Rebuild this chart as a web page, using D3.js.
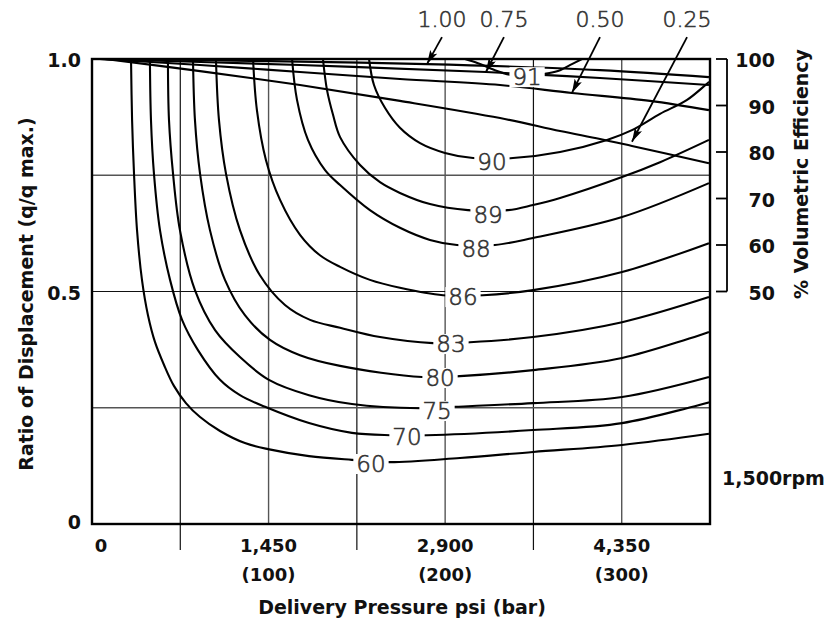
<!DOCTYPE html>
<html><head><meta charset="utf-8">
<script src="https://cdn.jsdelivr.net/npm/d3@7"></script>
<style>body{margin:0;background:#fff}</style>
</head><body>
<svg id="c" width="834" height="622"></svg>
<script>
// ---- data: x in bar, y in ratio of displacement ----
const eff60 = [[22.1,1.0],[22.7,0.869],[23.8,0.753],[25.5,0.632],[28.3,0.525],[31.7,0.449],[35.7,0.391],[40.8,0.342],[46.4,0.297],[53.2,0.260],[61.2,0.230],[72.5,0.200],[86.6,0.174],[99.7,0.161],[122.9,0.146],[147.2,0.138],[168.8,0.133],[208.4,0.142],[249.8,0.155],[300.2,0.170],[349.4,0.194]];
const eff70 = [[32.8,1.0],[33.4,0.869],[35.1,0.753],[38.5,0.632],[44.2,0.525],[51.0,0.439],[60.0,0.374],[72.5,0.310],[83.8,0.277],[98.0,0.252],[122.9,0.217],[147.2,0.196],[168.8,0.191],[189.7,0.191],[249.8,0.202],[300.2,0.217],[349.4,0.262]];
const eff75 = [[43.0,1.0],[43.6,0.869],[45.9,0.753],[49.8,0.632],[58.3,0.503],[69.7,0.417],[83.8,0.359],[100.2,0.310],[122.9,0.277],[147.2,0.258],[185.8,0.249],[205.6,0.252],[249.8,0.260],[300.2,0.273],[349.4,0.316]];
const eff80 = [[57.2,1.0],[58.3,0.869],[61.2,0.753],[66.8,0.632],[75.3,0.525],[86.6,0.449],[100.8,0.396],[117.8,0.363],[140.5,0.340],[186.9,0.316],[208.4,0.318],[249.8,0.331],[300.2,0.357],[349.4,0.413]];
const eff83 = [[70.2,1.0],[71.9,0.869],[75.9,0.753],[83.8,0.632],[95.1,0.535],[109.3,0.471],[123.5,0.439],[140.5,0.422],[163.1,0.402],[193.1,0.389],[214.1,0.391],[249.8,0.402],[300.2,0.434],[349.4,0.488]];
const eff86 = [[91.2,1.0],[93.4,0.890],[98.5,0.783],[106.5,0.697],[117.8,0.622],[129.1,0.578],[140.5,0.553],[157.4,0.525],[174.4,0.508],[198.8,0.492],[221.4,0.492],[249.8,0.503],[300.2,0.542],[349.4,0.604]];
const eff88 = [[113.3,1.0],[116.1,0.912],[122.3,0.826],[132.0,0.761],[140.5,0.729],[157.4,0.675],[174.4,0.637],[191.4,0.611],[206.7,0.600],[228.2,0.600],[249.8,0.615],[300.2,0.660],[349.4,0.733]];
const eff89 = [[130.8,1.0],[133.1,0.933],[136.5,0.880],[140.5,0.832],[151.8,0.772],[163.1,0.735],[174.4,0.712],[191.4,0.688],[212.9,0.675],[235.6,0.675],[249.8,0.686],[265.1,0.701],[300.2,0.746],[321.7,0.778],[349.4,0.826]];
const eff90 = [[156.9,1.0],[159.7,0.944],[165.9,0.895],[174.4,0.852],[185.8,0.819],[199.9,0.798],[215.8,0.787],[238.4,0.787],[265.1,0.800],[291.7,0.826],[305.8,0.847],[321.7,0.882],[337.0,0.912],[349.4,0.951]];
const eff91 = [[211.2,1.0],[218.6,0.991],[228.2,0.976],[236.7,0.966],[246.4,0.961],[256.6,0.968],[265.1,0.976],[271.8,0.989],[277.5,1.0]];
const contourLevels = ["60","70","75","80","83","86","88","89","90","91"];
const contourLabelPos = [[158.0,0.129],[178.4,0.187],[195.4,0.243],[197.1,0.314],[203.3,0.387],[210.1,0.488],[217.5,0.591],[224.3,0.665],[226.5,0.778],[246.4,0.961]];

// displacement setting lines
const disp100 = [[4.5,1.0],[89.5,0.996],[189.7,0.989],[287.7,0.976],[349.4,0.961]];
const disp075 = [[4.5,1.0],[117.8,0.987],[223.1,0.972],[287.7,0.959],[349.4,0.944]];
const disp050 = [[4.5,1.0],[61.2,0.987],[117.8,0.972],[174.4,0.957],[231.1,0.944],[271.8,0.927],[316.0,0.910],[349.4,0.890]];
const disp025 = [[7.4,1.0],[61.2,0.974],[117.8,0.944],[174.4,0.910],[231.1,0.873],[265.1,0.845],[287.7,0.828],[305.8,0.813],[349.4,0.776]];
const dispLabels = ["1.00","0.75","0.50","0.25"];
const dispLabelBar = [198.2,233.3,287.7,337.0];
const dispArrowTip = [[189.7,0.989],[223.1,0.972],[271.8,0.927],[305.8,0.822]];

const xTickBar = [0,100,200,300];
const xTickPsi = ["0","1,450","2,900","4,350"];
const xTickBarLabel = ["","(100)","(200)","(300)"];
const xGridMajor = [100,200,300];
const xGridMinor = [50,150,250];
const yTicks = [0,0.5,1.0];
const yTickLabels = ["0","0.5","1.0"];
const yGridMajor = [0.5];
const yGridMinor = [0.25,0.75];
const effTicks = [50,60,70,80,90,100];

// ---- drawing ----
const svg = d3.select("#c");
const x = d3.scaleLinear().domain([0,350]).range([92,710]);
const y = d3.scaleLinear().domain([0,1]).range([524,59]);
const yEff = d3.scaleLinear().domain([0,100]).range([524,59]);
const FONT = "'DejaVu Sans', sans-serif";

// grid
svg.selectAll(".vgM").data(xGridMajor).join("line")
  .attr("x1",d=>x(d)).attr("x2",d=>x(d)).attr("y1",y(1)).attr("y2",y(0))
  .attr("stroke","#555").attr("stroke-width",1.4);
svg.selectAll(".vgm").data(xGridMinor).join("line")
  .attr("x1",d=>x(d)).attr("x2",d=>x(d)).attr("y1",y(1)).attr("y2",550)
  .attr("stroke","#111").attr("stroke-width",1.2);
svg.selectAll(".hgM").data(yGridMajor).join("line")
  .attr("x1",x(0)).attr("x2",x(350)).attr("y1",d=>y(d)).attr("y2",d=>y(d))
  .attr("stroke","#111").attr("stroke-width",1.2);
svg.selectAll(".hgm").data(yGridMinor).join("line")
  .attr("x1",x(0)).attr("x2",x(350)).attr("y1",d=>y(d)).attr("y2",d=>y(d))
  .attr("stroke","#555").attr("stroke-width",1.4);

const line = d3.line().x(d=>x(d[0])).y(d=>y(d[1])).curve(d3.curveCatmullRom.alpha(0.5));
const allContours = [eff60,eff70,eff75,eff80,eff83,eff86,eff88,eff89,eff90,eff91];
svg.selectAll(".ct").data(allContours).join("path")
  .attr("d",line).attr("fill","none").attr("stroke","#000").attr("stroke-width",2.1);
const allDisp = [disp100,disp075,disp050,disp025];
svg.selectAll(".dp").data(allDisp).join("path")
  .attr("d",line).attr("fill","none").attr("stroke","#000").attr("stroke-width",2.1);

// frame
svg.append("rect").attr("x",x(0)).attr("y",y(1)).attr("width",x(350)-x(0)).attr("height",y(0)-y(1))
  .attr("fill","none").attr("stroke","#000").attr("stroke-width",2.4);

// contour labels with white boxes
function labelBox(g, txt, px, py, size){
  const t = g.append("text").attr("x",px).attr("y",py).attr("text-anchor","middle")
    .attr("dominant-baseline","central").attr("font-family",FONT).attr("font-weight",200)
    .attr("font-size",size).attr("fill","#333").attr("stroke","#333").attr("stroke-width",0.6).text(txt);
  const b = t.node().getBBox();
  g.insert("rect","text").attr("x",b.x-3).attr("y",b.y+3).attr("width",b.width+6).attr("height",b.height-6).attr("fill","#fff");
}
contourLevels.forEach((lv,i)=>{
  const g = svg.append("g");
  labelBox(g, lv, x(contourLabelPos[i][0]), y(contourLabelPos[i][1]), 23);
});

// arrow marker
svg.append("defs").append("marker").attr("id","ah").attr("viewBox","0 0 14 8")
  .attr("refX",14).attr("refY",4).attr("markerWidth",14).attr("markerHeight",8)
  .attr("markerUnits","userSpaceOnUse").attr("orient","auto")
  .append("path").attr("d","M0,0 L14,4 L0,8 L3,4 Z").attr("fill","#000");

dispLabels.forEach((lb,i)=>{
  svg.append("text").attr("x",x(dispLabelBar[i])).attr("y",y(1.084)).attr("text-anchor","middle")
    .attr("dominant-baseline","central").attr("font-family",FONT).attr("font-weight",200)
    .attr("font-size",22).attr("fill","#333").attr("stroke","#333").attr("stroke-width",0.6).text(lb);
  svg.append("line").attr("x1",x(dispLabelBar[i])).attr("y1",y(1.047))
    .attr("x2",x(dispArrowTip[i][0])).attr("y2",y(dispArrowTip[i][1]))
    .attr("stroke","#000").attr("stroke-width",1.8).attr("marker-end","url(#ah)");
});

// x axis labels
xTickBar.forEach((b,i)=>{
  svg.append("text").attr("x", i===0 ? x(b)+9 : x(b)).attr("y",545).attr("text-anchor","middle")
    .attr("dominant-baseline","central").attr("font-family",FONT).attr("font-weight",700)
    .attr("font-size",18).attr("fill","#111").text(xTickPsi[i]);
  if(xTickBarLabel[i]) svg.append("text").attr("x",x(b)).attr("y",574).attr("text-anchor","middle")
    .attr("dominant-baseline","central").attr("font-family",FONT).attr("font-weight",700)
    .attr("font-size",18).attr("fill","#111").text(xTickBarLabel[i]);
});
svg.append("text").attr("x",402).attr("y",607).attr("text-anchor","middle").attr("dominant-baseline","central")
  .attr("font-family",FONT).attr("font-weight",700).attr("font-size",19).attr("fill","#111")
  .text("Delivery Pressure psi (bar)");

// y axis labels
yTicks.forEach((v,i)=>{
  svg.append("text").attr("x",81).attr("y",v===0 ? y(v)-2 : y(v)+1).attr("text-anchor","end").attr("dominant-baseline","central")
    .attr("font-family",FONT).attr("font-weight",700).attr("font-size",19).attr("fill","#111").text(yTickLabels[i]);
});
svg.append("text").attr("transform","translate(26,294) rotate(-90)").attr("text-anchor","middle")
  .attr("dominant-baseline","central").attr("font-family",FONT).attr("font-weight",700).attr("font-size",19)
  .attr("fill","#111").text("Ratio of Displacement (q/q max.)");

// right efficiency scale
svg.append("line").attr("x1",727).attr("x2",727).attr("y1",yEff(100)).attr("y2",yEff(50))
  .attr("stroke","#000").attr("stroke-width",1.8);
effTicks.forEach(v=>{
  svg.append("line").attr("x1",716).attr("x2",727).attr("y1",yEff(v)).attr("y2",yEff(v))
    .attr("stroke","#000").attr("stroke-width",1.8);
  svg.append("text").attr("x",775).attr("y",yEff(v)+1).attr("text-anchor","end").attr("dominant-baseline","central")
    .attr("font-family",FONT).attr("font-weight",700).attr("font-size",19).attr("fill","#111").text(v);
});
svg.append("text").attr("transform","translate(801,174) rotate(-90)").attr("text-anchor","middle")
  .attr("dominant-baseline","central").attr("font-family",FONT).attr("font-weight",700).attr("font-size",19)
  .attr("fill","#111").text("% Volumetric Efficiency");
svg.append("text").attr("x",722).attr("y",478).attr("dominant-baseline","central")
  .attr("font-family",FONT).attr("font-weight",700).attr("font-size",19).attr("fill","#111").text("1,500rpm");
</script>
</body></html>
